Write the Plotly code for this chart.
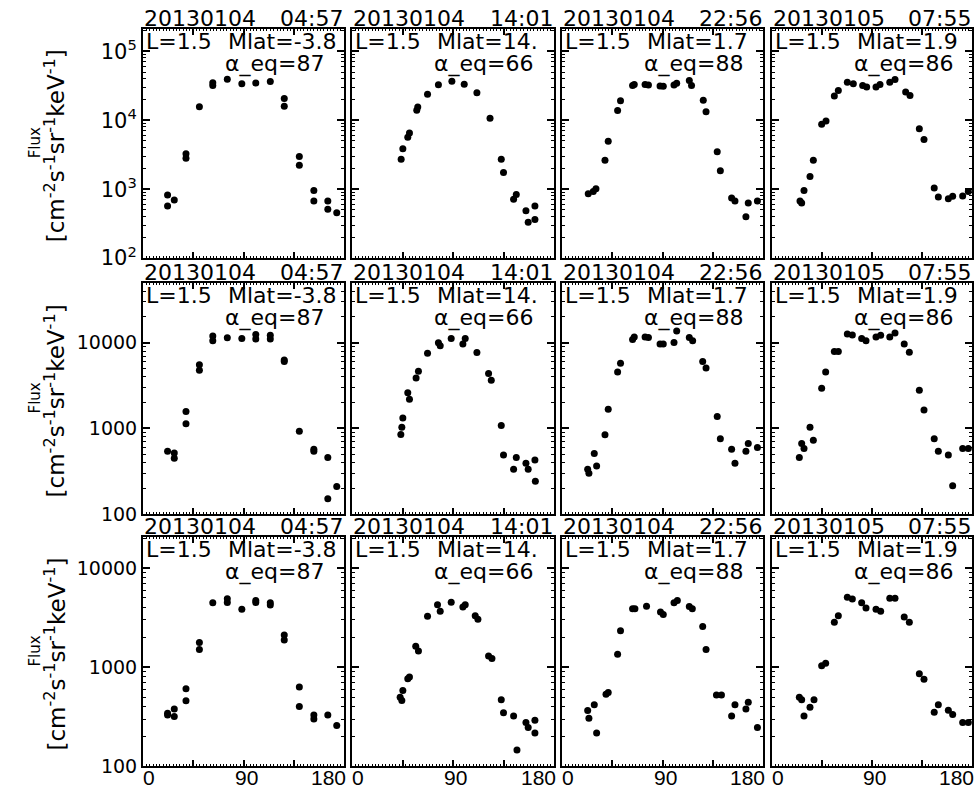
import plotly.graph_objects as go

# ---- data: pitch angle (deg) and differential flux, rows = energy channels, columns = passes
pass_dates = ["20130104", "20130104", "20130104", "20130105"]
pass_times = ["04:57", "14:01", "22:56", "07:55"]
l_shell = ["1.5", "1.5", "1.5", "1.5"]
mlat = ["-3.8", "14.", "1.7", "1.9"]
alpha_eq = ["87", "66", "88", "86"]

pa_r1c1 = [22, 22, 28, 38.5, 38.5, 50.5, 62.5, 62.5, 75.5, 88.5, 101, 114, 126.5, 126.5, 140, 140, 153, 153, 165.5, 165.5, 173.5]
flux_r1c1 = [821, 571, 696, 3270, 2800, 15700, 34900, 31900, 39400, 33800, 34600, 36400, 20600, 16000, 2990, 2220, 957, 674, 674, 513, 454]
pa_r2c1 = [22, 28, 28, 38.5, 38.5, 50.5, 50.5, 62.5, 62.5, 75.5, 88.5, 101, 101, 114, 114, 126.5, 126.5, 140, 153, 153, 165.5, 165.5, 173.5]
flux_r2c1 = [544, 516, 449, 1581, 1132, 5540, 4770, 11940, 10540, 11400, 11200, 12450, 11040, 12250, 11040, 6300, 6030, 925, 574, 544, 460, 151, 211]
pa_r3c1 = [22, 22, 28, 28, 38.5, 38.5, 50.5, 50.5, 62.5, 75.5, 75.5, 88.5, 101, 101, 114, 114, 126.5, 126.5, 140, 140, 153, 153, 165.5, 173.5]
flux_r3c1 = [343, 330, 378, 318, 605, 460, 1780, 1510, 4470, 4900, 4490, 3840, 4710, 4500, 4470, 4240, 2120, 1880, 632, 402, 330, 301, 330, 259]

pa_r1c2 = [43.8, 45.3, 49.7, 51.2, 57.7, 58.6, 67.3, 77, 89, 100, 111.3, 123, 133, 135, 144, 146.4, 155, 157, 163, 163]
flux_r1c2 = [2710, 3850, 5660, 6520, 14000, 15500, 23800, 32700, 36900, 33400, 25100, 10700, 2710, 1750, 713, 839, 485, 330, 571, 364]
pa_r2c2 = [43.5, 44.4, 45.3, 49.7, 51.2, 57.1, 59.2, 67.3, 77, 78.6, 88.4, 98.8, 100.9, 111.3, 121.7, 124.1, 133, 135, 144, 146.4, 155, 157, 163, 163.4]
flux_r2c2 = [853, 1036, 1328, 2610, 2190, 3890, 4640, 7530, 10000, 9240, 11200, 9660, 11200, 7670, 4370, 3660, 1082, 490, 335, 460, 393, 335, 428, 242]
pa_r3c2 = [42.9, 44.4, 45.3, 49.7, 51.2, 56.8, 59.2, 67.3, 76.2, 78.6, 88.4, 98.8, 100.9, 109.8, 112.2, 121.7, 124.7, 133, 135, 144, 147, 155, 157, 163, 163]
flux_r3c2 = [499, 463, 581, 767, 797, 1632, 1456, 3270, 4270, 3660, 4530, 4040, 4270, 3300, 3050, 1300, 1226, 469, 347, 322, 146, 277, 247, 292, 217]

pa_r1c3 = [23.5, 28, 30.4, 38.5, 41.4, 49.8, 52.4, 63.2, 64.7, 74.4, 77.4, 87.8, 90.7, 100.3, 102.7, 114, 116, 126.5, 129, 139, 141.8, 151.9, 154.9, 164.7, 166.8, 175]
flux_r1c3 = [857, 927, 1010, 2620, 4970, 13800, 19100, 31900, 33000, 33000, 32500, 31300, 31000, 32500, 34500, 37700, 31900, 19500, 13300, 3490, 1850, 743, 674, 398, 631, 674]
pa_r2c3 = [23, 24.1, 28.9, 31, 38.5, 41.4, 49.8, 52.4, 63.2, 64.7, 74.4, 77.4, 87.8, 90.7, 100.3, 102.7, 114, 117, 126, 129, 139, 141.8, 151.9, 154.9, 164.7, 166.8, 175]
flux_r2c3 = [335, 301, 512, 366, 847, 1680, 4560, 5780, 10900, 11700, 11700, 11500, 9660, 9660, 10070, 13700, 11500, 10540, 6050, 5070, 1380, 760, 574, 393, 544, 667, 600]
pa_r3c3 = [23, 24.1, 28.9, 31, 39.4, 41.4, 49.8, 52.4, 63.2, 65.3, 75.7, 88.2, 90.7, 100.3, 103.3, 114, 116.7, 126, 129, 138.3, 142.8, 151.9, 154.9, 164.7, 166.8, 175]
flux_r3c3 = [366, 305, 419, 217, 534, 555, 1352, 2330, 3890, 3890, 4130, 3610, 3400, 4470, 4700, 4100, 3890, 2570, 1514, 525, 525, 322, 419, 380, 443, 247]

pa_r1c4 = [25.2, 26.7, 28.8, 34.2, 37.2, 44.7, 48.6, 56.1, 59.7, 67.8, 73.2, 81.6, 85.2, 93.6, 97.2, 106, 110.7, 120.3, 124.2, 132.6, 136.8, 146, 149.7, 158.7, 162.6, 171.6, 176.7]
flux_r1c4 = [674, 631, 957, 1530, 2620, 8770, 9780, 22500, 27100, 35700, 33800, 31900, 30300, 30300, 33000, 35700, 38900, 25700, 22900, 7520, 5240, 1040, 769, 726, 787, 794, 927]
pa_r2c4 = [24.6, 26.7, 28.8, 34.2, 37.2, 44.7, 48.3, 56.1, 59.7, 67.8, 72.3, 80.7, 84.6, 93.6, 97.8, 106, 110.7, 119, 123.6, 132.6, 136.8, 146, 149.7, 158.7, 162.6, 171.6, 176.7]
flux_r2c4 = [460, 667, 585, 1036, 728, 2940, 4560, 7890, 7890, 12600, 12270, 11200, 10540, 11700, 12250, 11700, 13000, 9660, 7740, 2790, 1640, 760, 544, 490, 215, 585, 585]
pa_r3c4 = [24.6, 26.7, 28.8, 34.2, 37.8, 44.7, 48.3, 56.1, 59.7, 67.8, 72.3, 80.7, 84.6, 93.6, 97.8, 106, 110.7, 119, 123.6, 132.6, 136.8, 146, 149.7, 158.7, 162.6, 171.6, 176.7]
flux_r3c4 = [499, 469, 322, 394, 469, 1037, 1095, 2840, 3300, 5070, 4890, 4470, 3950, 3840, 3660, 4960, 4960, 3220, 2840, 859, 755, 352, 419, 369, 334, 277, 277]

panels = [
    [(pa_r1c1, flux_r1c1), (pa_r1c2, flux_r1c2), (pa_r1c3, flux_r1c3), (pa_r1c4, flux_r1c4)],
    [(pa_r2c1, flux_r2c1), (pa_r2c2, flux_r2c2), (pa_r2c3, flux_r2c3), (pa_r2c4, flux_r2c4)],
    [(pa_r3c1, flux_r3c1), (pa_r3c2, flux_r3c2), (pa_r3c3, flux_r3c3), (pa_r3c4, flux_r3c4)],
]

# y axis ticks per row (log axis)
ytick_vals = [[1e2, 1e3, 1e4, 1e5], [100, 1000, 10000], [100, 1000, 10000]]
ytick_text = [["10<sup>2</sup>", "10<sup>3</sup>", "10<sup>4</sup>", "10<sup>5</sup>"],
              ["100", "1000", "10000"], ["100", "1000", "10000"]]
ytick_size = [21, 19, 19]
x_labels = ["0", "90", "180"]
x_label_pos = [5.5, 92.5, 166]

# ---- page geometry (pixels)
W, H = 974, 803
col_px = [(143, 344), (352, 554), (562, 763), (772, 972)]
row_px = [(29, 262), (287, 522), (545, 778)]
ylog_range = [(2, 5.33), (2, 4.70), (2, 4.315)]

FONT = "DejaVu Sans"
NARROW = "Liberation Sans"


def px(xp):
    return xp / W


def py(yp):
    return 1 - yp / H


def label(text, x, y, xanchor="left", size=22, family=FONT, **kw):
    return dict(text=text, x=x, y=y, xref=kw.pop("xref", "paper"), yref="paper",
                xanchor=xanchor, yanchor="middle", showarrow=False,
                font=dict(family=family, size=size, color="black"), **kw)


minor_y = [k * 10 ** d for d in range(1, 6) for k in range(2, 10)]

fig = go.Figure()
annotations = []

for r in range(3):
    for c in range(4):
        k = r * 4 + c + 1
        xa = "x" if k == 1 else f"x{k}"
        ya = "y" if k == 1 else f"y{k}"
        pa, fl = panels[r][c]
        fig.add_trace(go.Scatter(x=pa, y=fl, mode="markers", xaxis=xa, yaxis=ya,
                                 marker=dict(color="black", size=7),
                                 showlegend=False, hoverinfo="skip"))
        l, rr = col_px[c]
        t, b = row_px[r]
        xkey = "xaxis" if k == 1 else f"xaxis{k}"
        ykey = "yaxis" if k == 1 else f"yaxis{k}"
        fig.layout[xkey] = dict(
            domain=[px(l), px(rr)], anchor=ya, range=[0, 180],
            showline=True, linecolor="black", linewidth=2, mirror="ticks",
            ticks="inside", ticklen=6, tickwidth=1.5, tickcolor="black",
            tickmode="array", tickvals=[45, 90, 135], showticklabels=False,
            showgrid=False, zeroline=False, fixedrange=True,
            minor=dict(ticks="inside", ticklen=2, tickwidth=1, tickcolor="black",
                       tick0=0, dtick=3, showgrid=False),
        )
        fig.layout[ykey] = dict(
            domain=[py(b), py(t)], anchor=xa, type="log", range=list(ylog_range[r]),
            showline=True, linecolor="black", linewidth=2, mirror="ticks",
            ticks="inside", ticklen=7, tickwidth=1.5, tickcolor="black",
            tickmode="array", tickvals=ytick_vals[r], ticktext=ytick_text[r],
            showticklabels=(c == 0), tickfont=dict(family=FONT, size=ytick_size[r], color="black"),
            showgrid=False, zeroline=False, fixedrange=True,
            minor=dict(ticks="inside", ticklen=3, tickwidth=1, tickcolor="black",
                       tickmode="array", tickvals=minor_y, showgrid=False),
        )

        # pass header above each panel
        annotations.append(label(pass_dates[c], px(l - 1), py(t - 11), height=18, valign="middle"))
        annotations.append(label(pass_times[c], px(rr + 1), py(t - 11), xanchor="right",
                                 height=18, valign="middle"))
        # position info inside each panel
        annotations.append(label(f"L={l_shell[c]}", px(l + 1), py(t + 12.5), height=18, valign="middle"))
        annotations.append(label(f"Mlat={mlat[c]}", px(l + 83), py(t + 12.5), height=18, valign="middle"))
        annotations.append(label(f"α_eq={alpha_eq[c]}", px(l + 80), py(t + 35.5), height=26, valign="middle"))

        # pitch-angle labels under the bottom row
        if r == 2:
            for lab, pos in zip(x_labels, x_label_pos):
                annotations.append(label(lab, pos, py(789), xanchor="center", size=21,
                                         family=NARROW, xref=xa))

    # y axis titles for each row
    t, b = row_px[r]
    ymid = (t + b) / 2
    annotations.append(label("Flux", px(35), py(ymid), xanchor="center", size=15, textangle=-90))
    annotations.append(label("[cm<sup>-2</sup>s<sup>-1</sup>sr<sup>-1</sup>keV<sup>-1</sup>]",
                             px(55), py(ymid + 3), xanchor="center", size=23, textangle=-90))

fig.update_layout(
    width=W, height=H, margin=dict(l=0, r=0, t=0, b=0),
    paper_bgcolor="white", plot_bgcolor="white",
    annotations=annotations, showlegend=False,
)

fig.write_html("out.html", config={"displayModeBar": False})
